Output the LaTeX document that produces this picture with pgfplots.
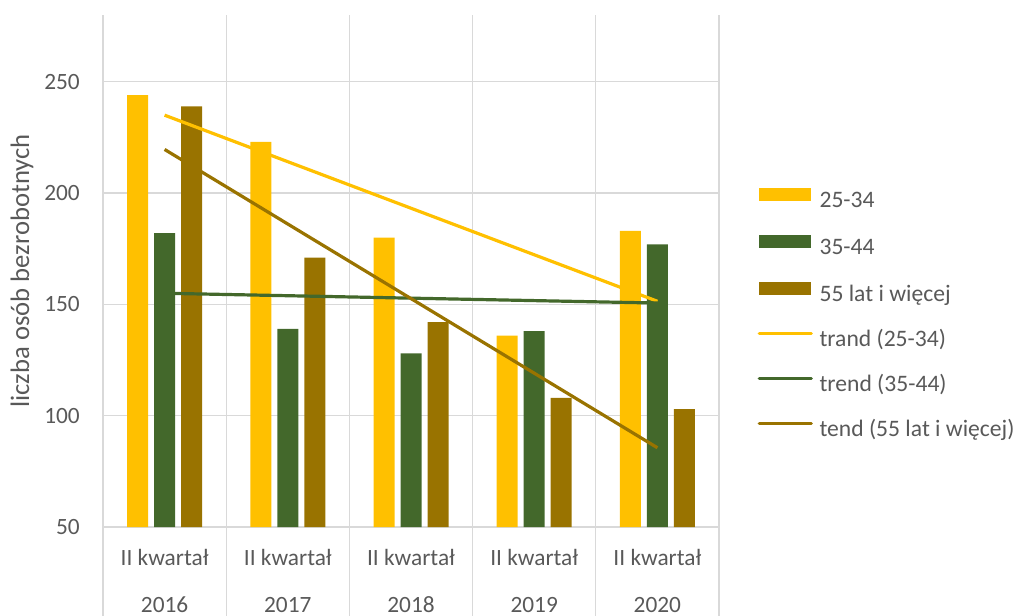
\documentclass[border=0pt]{standalone}
\usepackage{pgfplots}
\pgfplotsset{compat=1.18}
\usepackage{fontspec}
\setmainfont{Carlito}
\definecolor{cY}{HTML}{FFC000}
\definecolor{cG}{HTML}{43682B}
\definecolor{cB}{HTML}{997300}
\definecolor{tg}{HTML}{595959}
\definecolor{gg}{HTML}{D9D9D9}
\begin{document}
\begin{tikzpicture}
\path[use as bounding box] (0,0) rectangle (761.25pt,461.25pt);
\begin{axis}[
  at={(77.25pt,66pt)}, anchor=south west,
  scale only axis, width=462pt, height=384pt,
  xmin=-0.5, xmax=4.5, ymin=50, ymax=280,
  ytick={50,100,150,200,250},
  xtick={0,1,2,3,4},
  xticklabels={II kwartał,II kwartał,II kwartał,II kwartał,II kwartał},
  minor xtick={-0.5,0.5,1.5,2.5,3.5,4.5},
  ymajorgrids, xminorgrids, xmajorgrids=false,
  grid style={color=gg, line width=1pt},
  minor grid style={color=gg, line width=1pt},
  axis line style={draw=none},
  major tick length=0pt, minor tick length=0pt,
  /pgf/number format/assume math mode=true,
  tick label style={font=\fontsize{17.5}{20}\selectfont, text=tg},
  yticklabel style={anchor=east, inner sep=0pt, xshift=-17.25pt},
  xticklabel style={anchor=base, inner sep=0pt, yshift=-28.9pt},
  legend style={at={(1.0628,0.6623)}, anchor=north west, draw=none, fill=none,
    inner sep=0pt, outer sep=0pt, font=\fontsize{17.7}{20}\selectfont, text=tg,
    row sep=16.25pt, column sep=5pt,
    nodes={inner sep=0pt, text height=13pt, text depth=4.5pt}},
  legend cell align=left,
]
\pgfplotsset{
  barleg/.style={legend image code/.code={\fill[##1,draw=none] (0pt,0.525pt) rectangle (39pt,10.275pt);}},
  lineleg/.style={legend image code/.code={\draw[##1,line cap=round] (0pt,5.4pt) -- (39pt,5.4pt);}},
}
\addplot[ybar, bar width=15.75pt, bar shift=-20.25pt, fill=cY, draw=none, barleg]
  coordinates {(0,244) (1,223) (2,180) (3,136) (4,183)};
\addlegendentry{25-34}
\addplot[ybar, bar width=15.75pt, bar shift=0pt, fill=cG, draw=none, barleg]
  coordinates {(0,182) (1,139) (2,128) (3,138) (4,177)};
\addlegendentry{35-44}
\addplot[ybar, bar width=15.75pt, bar shift=20.25pt, fill=cB, draw=none, barleg]
  coordinates {(0,239) (1,171) (2,142) (3,108) (4,103)};
\addlegendentry{55 lat i więcej}
\addplot[cY, line width=2.4pt, lineleg] coordinates {(0,235.0) (4,151.4)};
\addlegendentry{trand (25-34)}
\addplot[cG, line width=2.4pt, lineleg] coordinates {(0,155.0) (4,150.6)};
\addlegendentry{trend (35-44)}
\addplot[cB, line width=2.4pt, lineleg] coordinates {(0,219.6) (4,85.6)};
\addlegendentry{tend (55 lat i więcej)}
\coordinate (c0) at (axis cs:0,50);
\coordinate (c1) at (axis cs:1,50);
\coordinate (c2) at (axis cs:2,50);
\coordinate (c3) at (axis cs:3,50);
\coordinate (c4) at (axis cs:4,50);
\coordinate (g0) at (axis cs:-0.5,50);
\coordinate (g1) at (axis cs:0.5,50);
\coordinate (g2) at (axis cs:1.5,50);
\coordinate (g3) at (axis cs:2.5,50);
\coordinate (g4) at (axis cs:3.5,50);
\coordinate (g5) at (axis cs:4.5,50);
\coordinate (yl) at (axis description cs:-0.1315,0.5);
\end{axis}
\foreach \i in {0,...,5} \draw[gg, line width=1pt] (g\i) -- ++(0,-80pt);
\foreach \i/\y in {0/2016,1/2017,2/2018,3/2019,4/2020}
  \node[anchor=base, inner sep=0pt, text=tg, font=\fontsize{17.5}{20}\selectfont, yshift=-63.75pt] at (c\i) {\y};
\node[rotate=90, text=tg, font=\fontsize{20}{22}\selectfont] at (yl) {liczba osób bezrobotnych};
\end{tikzpicture}
\end{document}
